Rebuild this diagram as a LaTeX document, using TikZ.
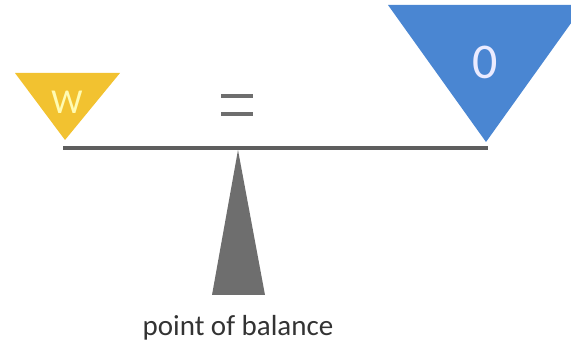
\documentclass[tikz,border=0pt]{standalone}
\usepackage{fontspec}
\setmainfont{Carlito}
\definecolor{wgold}{HTML}{F2C230}
\definecolor{oblue}{HTML}{4A86D2}
\definecolor{beamgray}{HTML}{5E5E5E}
\definecolor{fulgray}{HTML}{6E6E6E}
\begin{document}
\begin{tikzpicture}[x=1pt,y=-1pt,
  beam/.style={draw=beamgray,line width=4.5pt},
  eqbar/.style={draw=beamgray!90,line width=4.5pt},
  lbl/.style={font=\fontsize{29}{32}\selectfont,text=black!80}]
\useasboundingbox (0,0) rectangle (571,352);
\clip (0,0) rectangle (571,352);
% coordinates
\coordinate (wl) at (15,73);
\coordinate (wr) at (120,73);
\coordinate (wa) at (65,140);
\coordinate (ol) at (388,5);
\coordinate (or) at (584,5);
\coordinate (oa) at (486,142);
\coordinate (bl) at (63,148);
\coordinate (br) at (488,148);
\coordinate (ft) at (238,150);
\coordinate (fl) at (212,295);
\coordinate (fr) at (265,295);
% triangles
\fill[wgold] (wl) -- (wr) -- (wa) -- cycle;
\fill[oblue] (ol) -- (or) -- (oa) -- cycle;
% beam
\draw[beam] (bl) -- (br);
% fulcrum
\fill[fulgray] (ft) -- (fr) -- (fl) -- cycle;
% equals sign
\coordinate (e1l) at (221,96);
\coordinate (e1r) at (253,96);
\coordinate (e2l) at (221,114);
\coordinate (e2r) at (253,114);
\draw[eqbar] (e1l) -- (e1r);
\draw[eqbar] (e2l) -- (e2r);
% labels
\node[font=\fontsize{35}{38}\selectfont,text=yellow!30] (w) at (67,102) {W};
\node[font=\fontsize{50}{52}\selectfont,text=blue!8] (o) at (485,62) {0};
\node[lbl] (pb) at (238,328) {point of balance};
\end{tikzpicture}
\end{document}
